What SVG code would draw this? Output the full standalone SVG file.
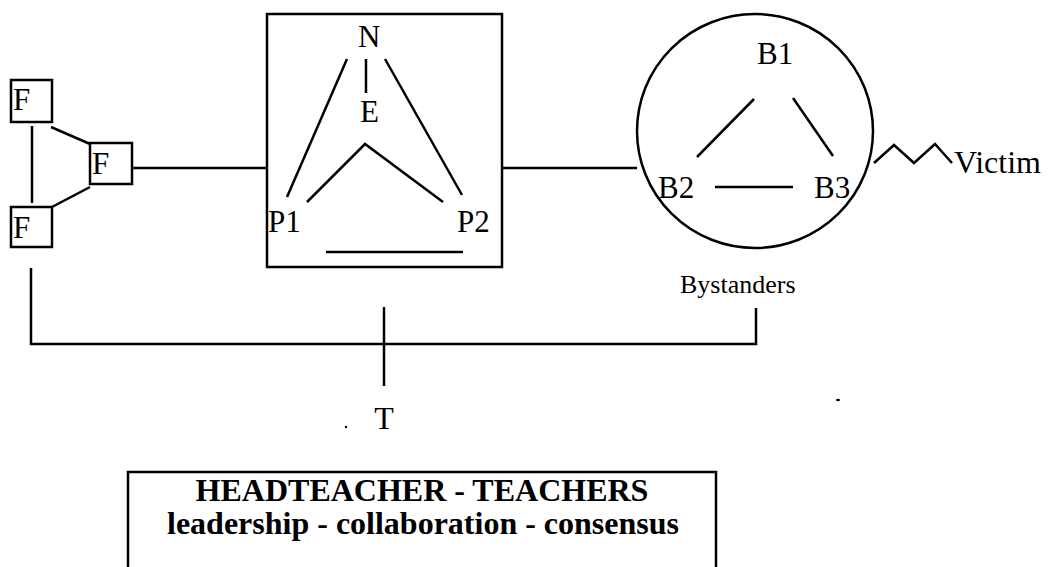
<svg xmlns="http://www.w3.org/2000/svg" width="1049" height="567" viewBox="0 0 1049 567">
<style>
.ln{stroke:#000;stroke-width:2.5;fill:none;stroke-linecap:butt}
.bx{stroke:#000;stroke-width:2.5;fill:none}
.t{font-family:"Liberation Serif","Times New Roman",serif;font-size:31px;fill:#000}
.b{font-family:"Liberation Serif","Times New Roman",serif;font-size:32px;font-weight:bold;fill:#000}
</style>
<rect width="1049" height="567" fill="#fff"/>
<g id="connectors">
<line class="ln" x1="32" y1="126" x2="32" y2="203"/>
<line class="ln" x1="51" y1="127" x2="90" y2="144"/>
<line class="ln" x1="90" y1="187" x2="52" y2="207"/>
<line class="ln" x1="132" y1="168" x2="267" y2="168"/>
<line class="ln" x1="502" y1="168" x2="637" y2="168"/>
<polyline class="ln" points="874,163 894,145 914,163 935,144 952,163"/>
<polyline class="ln" points="31,268 31,344 756,344 756,308"/>
<line class="ln" x1="384" y1="307" x2="384" y2="386"/>
</g>
<g id="family">
<rect class="bx" x="11" y="80" width="41" height="42"/>
<text class="t" x="13" y="110">F</text>
<rect class="bx" x="90" y="143" width="42" height="41"/>
<text class="t" x="92" y="174">F</text>
<rect class="bx" x="11" y="207" width="41" height="40"/>
<text class="t" x="13" y="238">F</text>
</g>
<g id="school">
<rect class="bx" x="267" y="14" width="235" height="253"/>
<text class="t" x="358" y="47">N</text>
<text class="t" x="360" y="122">E</text>
<text class="t" x="268" y="232">P1</text>
<text class="t" x="457" y="232">P2</text>
<line class="ln" x1="366" y1="59" x2="366" y2="93"/>
<line class="ln" x1="347" y1="59" x2="287" y2="197"/>
<line class="ln" x1="385" y1="59" x2="462" y2="195"/>
<polyline class="ln" points="307,202 365,144 443,202"/>
<line class="ln" x1="326" y1="252" x2="463" y2="252"/>
</g>
<g id="bystanders">
<ellipse class="bx" cx="755" cy="131" rx="118" ry="117"/>
<text class="t" x="757" y="64">B1</text>
<text class="t" x="658" y="198">B2</text>
<text class="t" x="814" y="198">B3</text>
<line class="ln" x1="754" y1="99" x2="697" y2="157"/>
<line class="ln" x1="793" y1="98" x2="833" y2="156"/>
<line class="ln" x1="715" y1="187" x2="793" y2="187"/>
<text class="t" x="680" y="293" style="font-size:26px">Bystanders</text>
</g>
<g id="victim">
<text class="t" x="954" y="173" style="font-size:32px">Victim</text>
</g>
<g id="teacher">
<text class="t" x="384" y="429" text-anchor="middle" style="font-size:32px">T</text>
</g>
<g id="specks">
<circle cx="346" cy="427" r="1.2" fill="#000"/>
<ellipse cx="838" cy="400" rx="2" ry="1.2" fill="#000"/>
</g>
<g id="headteacher">
<rect class="bx" x="128" y="472" width="588" height="110"/>
<text class="b" x="422" y="501" text-anchor="middle">HEADTEACHER - TEACHERS</text>
<text class="b" x="423" y="534" text-anchor="middle">leadership - collaboration - consensus</text>
</g>
</svg>
